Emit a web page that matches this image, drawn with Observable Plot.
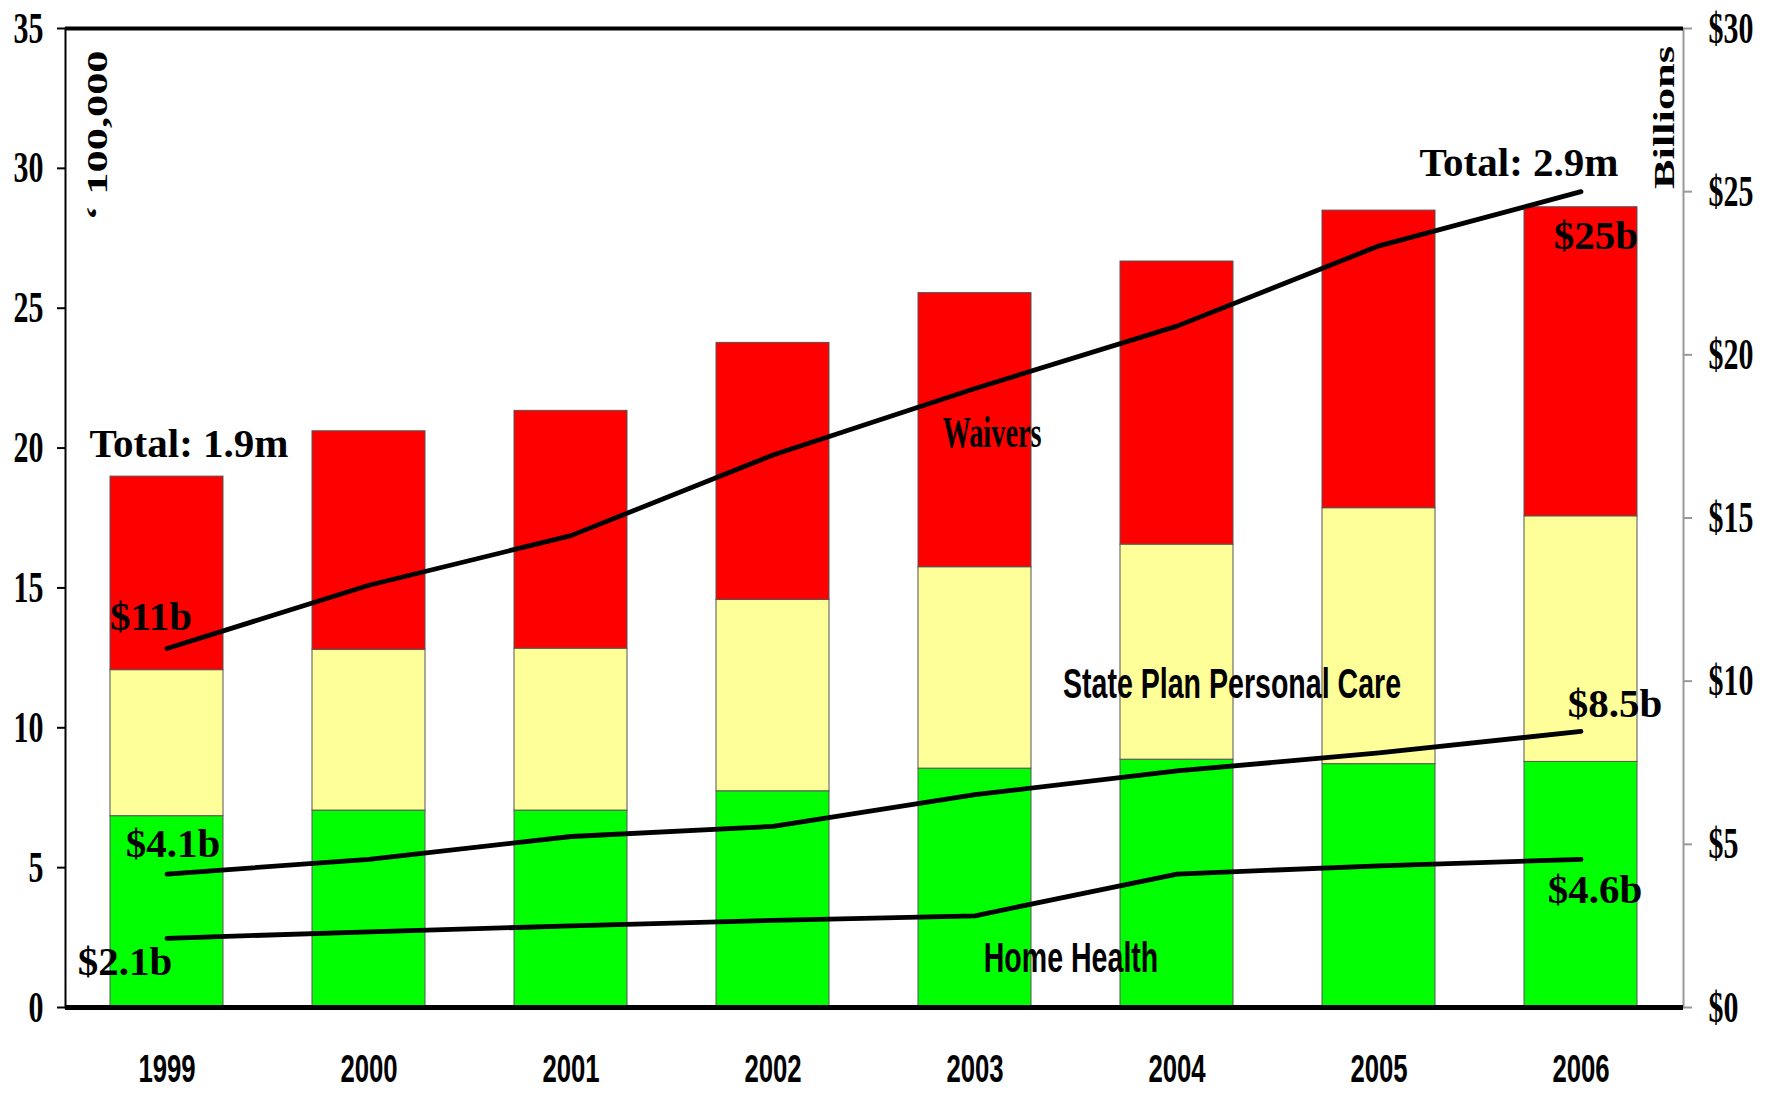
<!DOCTYPE html>
<html><head><meta charset="utf-8">
<script src="https://cdn.jsdelivr.net/npm/d3@7"></script>
<script src="https://cdn.jsdelivr.net/npm/@observablehq/plot@0.6"></script>
<style>body{margin:0;background:#fff} #chart svg{display:block;background:#fff}</style>
</head><body><div id="chart"></div>
<script>
// ---- data ----
const years = ["1999", "2000", "2001", "2002", "2003", "2004", "2005", "2006"];
const seriesNames = ["Home Health", "State Plan Personal Care", "Waivers"];
const seriesColors = ["#00ff00", "#ffff99", "#ff0000"];
// participants (x 100,000) per segment
const homeHealth = [6.84, 7.04, 7.04, 7.73, 8.54, 8.86, 8.70, 8.78];
const statePlan  = [5.22, 5.75, 5.79, 6.84, 7.20, 7.69, 9.15, 8.78];
const waivers    = [6.92, 7.81, 8.50, 9.19, 9.80, 10.12, 10.64, 11.05];
// spending, $ billions (right axis)
const totalSpend      = [11.0, 12.94, 14.46, 16.93, 18.97, 20.88, 23.34, 25.0];
const statePlanSpend  = [4.09, 4.54, 5.24, 5.55, 6.52, 7.25, 7.80, 8.46];
const homeHealthSpend = [2.12, 2.32, 2.50, 2.67, 2.81, 4.09, 4.34, 4.54];
const leftTicks  = [0, 5, 10, 15, 20, 25, 30, 35];
const rightTicks = [0, 5, 10, 15, 20, 25, 30];
const leftMax = 35, rightMax = 30;
const leftAxisLabel = "‘ 100,000";
const rightAxisLabel = "Billions";
// annotations: text, year, left-axis value, horizontal offset
const noteText = ["Total: 1.9m", "$11b", "$4.1b", "$2.1b", "Total: 2.9m", "$25b", "$8.5b", "$4.6b"];
const noteYear = ["1999", "1999", "1999", "1999", "2006", "2006", "2006", "2006"];
const noteVal  = [20.16, 13.98, 5.86, 1.64, 30.2, 27.6, 10.87, 4.22];
const noteDx   = [22, -16, 6, -42, -62, 15, 34, 14];
const catText = ["Waivers", "State Plan Personal Care", "Home Health"];
const catYear = ["2003", "2004", "2003"];
const catVal  = [20.56, 11.55, 1.75];
const catDx   = [17, 55, 96];

// ---- tables ----
const segs = [homeHealth, statePlan, waivers];
const bars = years.flatMap((yr, i) => seriesNames.map((s, k) => ({year: yr, series: s, value: segs[k][i]})));
const spendSeries = [["total", totalSpend], ["spc", statePlanSpend], ["hh", homeHealthSpend]];
const lineRows = spendSeries.flatMap(([name, vals]) => vals.map((v, i) => ({series: name, year: years[i], value: v})));
const toLeft = v => v * leftMax / rightMax;
const notes = noteText.map((t, i) => ({text: t, year: noteYear[i], value: noteVal[i], dx: noteDx[i]}));
const cats = catText.map((t, i) => ({text: t, year: catYear[i], value: catVal[i], dx: catDx[i]}));

const SERIF = "'Liberation Serif','Times New Roman',serif";
const SANS = "'Liberation Sans',Arial,sans-serif";

const chart = Plot.plot({
  width: 1772, height: 1095,
  marginLeft: 65, marginRight: 89, marginTop: 28, marginBottom: 88,
  x: {type: "band", domain: years, paddingInner: 0.44, paddingOuter: 0.22, axis: null},
  y: {domain: [0, leftMax], axis: null},
  color: {domain: seriesNames, range: seriesColors},
  marks: [
    Plot.barY(bars, {x: "year", y: "value", fill: "series", stroke: "#555", strokeWidth: 1}),
    Plot.line(lineRows, {x: "year", y: d => toLeft(d.value), z: "series", stroke: "black", strokeWidth: 4.8, strokeLinecap: "round"}),
    Plot.frame({anchor: "left", stroke: "black", strokeWidth: 2}),
    Plot.frame({anchor: "right", stroke: "#999", strokeWidth: 2}),
    Plot.ruleY([leftMax], {stroke: "black", strokeWidth: 4}),
    Plot.ruleY([0], {stroke: "black", strokeWidth: 5}),
    Plot.axisY({anchor: "left", label: null, ticks: leftTicks, tickSize: 8, tickPadding: 14, tickFormat: d => String(d),
      fontSize: 44, fontFamily: SERIF, fontWeight: "bold", strokeWidth: 2, className: "yl"}),
    Plot.axisY({anchor: "right", label: null, ticks: rightTicks.map(toLeft), tickSize: 8, tickPadding: 17,
      tickFormat: d => "$" + Math.round(d * rightMax / leftMax), stroke: "#999", fill: "black",
      fontSize: 44, fontFamily: SERIF, fontWeight: "bold", strokeWidth: 2, className: "yr"}),
    Plot.axisX({anchor: "bottom", label: null, tickSize: 0, tickPadding: 47, fontSize: 39, fontFamily: SANS, fontWeight: "bold", className: "xa"}),
    Plot.text(notes, {x: "year", y: "value", text: "text", fontSize: 41, fontFamily: SERIF, fontWeight: "bold",
      fill: "black", className: "note"}),
    Plot.text(cats, {x: "year", y: "value", text: "text", fontSize: 42, fontFamily: SANS, fontWeight: "bold",
      fill: "black", className: "cat"}),
    Plot.text([leftAxisLabel], {frameAnchor: "top-left", dx: 32, dy: 107, rotate: -90, textAnchor: "middle", lineAnchor: "middle",
      fontSize: 30, fontFamily: SERIF, fontWeight: "bold", fill: "black", className: "ylab"}),
    Plot.text([rightAxisLabel], {frameAnchor: "top-right", dx: -19, dy: 89, rotate: -90, textAnchor: "middle", lineAnchor: "middle",
      fontSize: 30, fontFamily: SERIF, fontWeight: "bold", fill: "black", className: "ylab"})
  ]
});
document.getElementById("chart").appendChild(chart);

// per-text offsets and condensed glyphs (appended to Plot's own transform)
const svg = d3.select(chart);
function squeeze(sel, sx, dxs) {
  sel.each(function (d, i) {
    const t = this.getAttribute("transform") || "";
    const off = dxs ? `translate(${dxs(i)},0) ` : "";
    const s = typeof sx === "function" ? sx(i) : sx;
    this.setAttribute("transform", `${off}${t} scale(${s},1)`.trim());
  });
}
squeeze(svg.selectAll("g[aria-label='y-axis tick label'] text"), 0.68);
squeeze(svg.selectAll("g[aria-label='x-axis tick label'] text"), 0.66);
squeeze(svg.selectAll("g.note text"), 1, i => notes[i].dx);
const catTexts = svg.selectAll("g.cat text");
catTexts.filter((d, i) => i === 0).attr("font-family", SERIF).attr("font-size", 45);
squeeze(catTexts, i => (i === 0 ? 0.63 : 0.68), i => cats[i].dx);
squeeze(svg.selectAll("g.ylab text"), 1.48);
</script>
</body></html>
